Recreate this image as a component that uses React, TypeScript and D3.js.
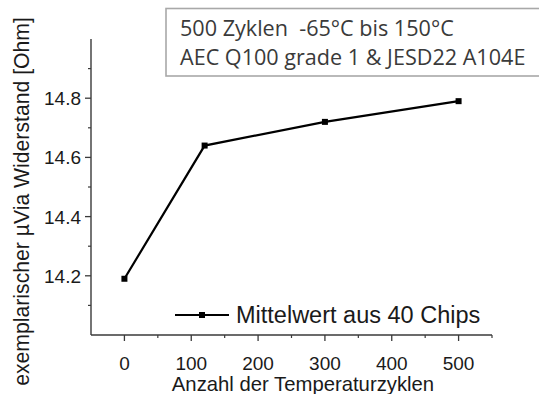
import * as d3 from "d3";

// Data
const cycles = [0, 120, 300, 500];
const resistance = [14.19, 14.64, 14.72, 14.79];
const xMajorTicks = [0, 100, 200, 300, 400, 500];
const xMinorTicks = [50, 150, 250, 350, 450, 550];
const yMajorTicks = [14.2, 14.4, 14.6, 14.8];
const yMinorTicks = [14.1, 14.3, 14.5, 14.7, 14.9];
const legendLabel = "Mittelwert aus 40 Chips";
const noteLines = ["500 Zyklen  -65°C bis 150°C", "AEC Q100 grade 1 & JESD22 A104E"];
const xTitle = "Anzahl der Temperaturzyklen";
const yTitle = "exemplarischer µVia Widerstand [Ohm]";

export default function App() {
  const width = 539;
  const height = 394;
  const margin = { top: 39, right: 47, bottom: 59, left: 91 };

  const xScale = d3
    .scaleLinear()
    .domain([-50, 550])
    .range([margin.left, width - margin.right]);

  const yScale = d3
    .scaleLinear()
    .domain([14.0, 15.0])
    .range([height - margin.bottom, margin.top]);

  const points = cycles.map((c, i) => ({ x: c, y: resistance[i] }));
  const line = d3
    .line<{ x: number; y: number }>()
    .x((d) => xScale(d.x))
    .y((d) => yScale(d.y));

  const axisColor = "#3a3a3a";
  const font = "'Liberation Sans', Arial, sans-serif";
  const x0 = xScale.range()[0];
  const y0 = yScale.range()[0];

  return (
    <svg
      width={width}
      height={height}
      style={{ position: "absolute", left: 0, top: 0, background: "#fff" }}
      fontFamily={font}
    >
      {/* Note box */}
      <rect x={166} y={8.5} width={380} height={67.5} fill="#fff" stroke="#a8a8a8" strokeWidth={1.6} />
      {noteLines.map((t, i) => (
        <text
          key={t}
          x={180}
          y={36 + i * 29.3}
          fontSize={21.6}
          fill="#3a3a3a"
          fontFamily="'Open Sans', 'Noto Sans', sans-serif"
          style={{ whiteSpace: "pre" }}
        >
          {t}
        </text>
      ))}

      {/* Axes */}
      <line x1={x0} x2={xScale.range()[1]} y1={y0} y2={y0} stroke={axisColor} strokeWidth={1.4} />
      <line x1={x0} x2={x0} y1={y0} y2={yScale.range()[1]} stroke={axisColor} strokeWidth={1.4} />

      {xMajorTicks.map((t) => (
        <g key={`xM${t}`}>
          <line x1={xScale(t)} x2={xScale(t)} y1={y0} y2={y0 + 6} stroke={axisColor} strokeWidth={1.3} />
          <text x={xScale(t)} y={370} textAnchor="middle" fontSize={19} fill="#1a1a1a">
            {t}
          </text>
        </g>
      ))}
      {xMinorTicks.map((t) => (
        <line key={`xm${t}`} x1={xScale(t)} x2={xScale(t)} y1={y0} y2={y0 + 3} stroke={axisColor} strokeWidth={1.2} />
      ))}

      {yMajorTicks.map((t) => (
        <g key={`yM${t}`}>
          <line x1={x0 - 6} x2={x0} y1={yScale(t)} y2={yScale(t)} stroke={axisColor} strokeWidth={1.3} />
          <text x={81} y={yScale(t) + 7} textAnchor="end" fontSize={19} fill="#1a1a1a">
            {t.toFixed(1)}
          </text>
        </g>
      ))}
      {yMinorTicks.map((t) => (
        <line key={`ym${t}`} x1={x0 - 3} x2={x0} y1={yScale(t)} y2={yScale(t)} stroke={axisColor} strokeWidth={1.2} />
      ))}

      {/* Axis titles */}
      <text x={303} y={390.5} textAnchor="middle" fontSize={20.3} fill="#1a1a1a">
        {xTitle}
      </text>
      <text
        transform={`translate(29, 201.5) rotate(-90)`}
        textAnchor="middle"
        fontSize={21.2}
        fill="#1a1a1a"
      >
        {yTitle}
      </text>

      {/* Data */}
      <path d={line(points) || ""} fill="none" stroke="#000" strokeWidth={2.2} />
      {points.map((p) => (
        <rect key={p.x} x={xScale(p.x) - 3} y={yScale(p.y) - 3} width={6} height={6} fill="#000" />
      ))}

      {/* Legend */}
      <line x1={175} x2={229} y1={315} y2={315} stroke="#000" strokeWidth={2.2} />
      <rect x={199} y={312} width={6} height={6} fill="#000" />
      <text x={236} y={322.5} fontSize={23.5} fill="#1a1a1a">
        {legendLabel}
      </text>
    </svg>
  );
}
